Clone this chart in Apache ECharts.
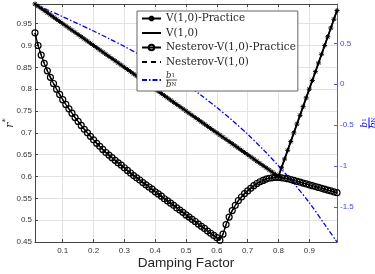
<!DOCTYPE html>
<html><head><meta charset="utf-8">
<script src="https://cdn.jsdelivr.net/npm/echarts@6/dist/echarts.min.js"></script>
<style>html,body{margin:0;padding:0;background:#fff}#c{width:375px;height:274px}</style>
</head><body><div id="c"></div>
<script>
const beta = [0.01,0.02,0.03,0.04,0.05,0.06,0.07,0.08,0.09,0.10,
0.11,0.12,0.13,0.14,0.15,0.16,0.17,0.18,0.19,0.20,
0.21,0.22,0.23,0.24,0.25,0.26,0.27,0.28,0.29,0.30,
0.31,0.32,0.33,0.34,0.35,0.36,0.37,0.38,0.39,0.40,
0.41,0.42,0.43,0.44,0.45,0.46,0.47,0.48,0.49,0.50,
0.51,0.52,0.53,0.54,0.55,0.56,0.57,0.58,0.59,0.60,
0.61,0.62,0.63,0.64,0.65,0.66,0.67,0.68,0.69,0.70,
0.71,0.72,0.73,0.74,0.75,0.76,0.77,0.78,0.79,0.80,
0.81,0.82,0.83,0.84,0.85,0.86,0.87,0.88,0.89,0.90,
0.91,0.92,0.93,0.94,0.95,0.96,0.97,0.98,0.99];
const vPractice = [0.995,0.99,0.985,0.98,0.975,0.97,0.965,0.96,0.955,0.95,
0.945,0.94,0.935,0.93,0.925,0.92,0.915,0.91,0.905,0.90,
0.895,0.89,0.885,0.88,0.875,0.87,0.865,0.86,0.855,0.85,
0.845,0.84,0.835,0.83,0.825,0.82,0.815,0.81,0.805,0.80,
0.795,0.79,0.785,0.78,0.775,0.77,0.765,0.76,0.755,0.75,
0.745,0.74,0.735,0.73,0.725,0.72,0.715,0.71,0.705,0.70,
0.695,0.69,0.685,0.68,0.675,0.67,0.665,0.66,0.655,0.65,
0.645,0.64,0.635,0.63,0.625,0.62,0.615,0.61,0.605,0.60,
0.62,0.64,0.66,0.68,0.70,0.72,0.74,0.76,0.78,0.80,
0.82,0.84,0.86,0.88,0.90,0.92,0.94,0.96,0.98];
const vTheoryX = [0.01,0.80,0.99];
const vTheory = [0.995,0.60,0.98];
const nesPractice = [0.929,0.900,0.878,0.859,0.842,0.827,0.813,0.800,0.788,0.776,
0.765,0.755,0.745,0.735,0.726,0.717,0.708,0.700,0.692,0.684,
0.676,0.669,0.662,0.655,0.649,0.643,0.637,0.631,0.626,0.620,
0.614,0.608,0.602,0.597,0.592,0.586,0.581,0.576,0.571,0.565,
0.560,0.555,0.549,0.544,0.539,0.534,0.528,0.523,0.518,0.512,
0.507,0.502,0.497,0.491,0.486,0.481,0.475,0.470,0.465,0.460,
0.454,0.468,0.490,0.507,0.522,0.534,0.545,0.553,0.561,0.567,
0.573,0.579,0.584,0.588,0.591,0.594,0.596,0.597,0.598,0.598,
0.597,0.596,0.595,0.593,0.591,0.589,0.587,0.585,0.583,0.581,
0.579,0.577,0.575,0.573,0.571,0.569,0.567,0.565,0.563];
const nesTheory = [0.929,0.900,0.878,0.859,0.842,0.827,0.813,0.800,0.788,0.776,
0.765,0.755,0.745,0.735,0.726,0.717,0.708,0.700,0.692,0.684,
0.676,0.669,0.662,0.655,0.649,0.643,0.637,0.631,0.626,0.620,
0.614,0.608,0.602,0.597,0.592,0.586,0.581,0.576,0.571,0.565,
0.560,0.555,0.549,0.544,0.539,0.534,0.528,0.523,0.518,0.512,
0.507,0.502,0.497,0.491,0.486,0.481,0.475,0.470,0.465,0.460,
0.454,0.468,0.490,0.507,0.522,0.534,0.545,0.553,0.561,0.567,
0.573,0.579,0.584,0.588,0.591,0.594,0.596,0.597,0.598,0.598,
0.597,0.596,0.595,0.593,0.591,0.589,0.587,0.585,0.583,0.581,
0.579,0.577,0.575,0.573,0.571,0.569,0.567,0.565,0.563];
const ratioX = [0.01,0.05,0.10,0.15,0.20,0.25,0.30,0.35,0.40,0.45,0.50,0.55,0.60,0.65,0.70,0.75,0.80,0.85,0.90,0.95,0.99];
const ratioVals = [0.98,0.91,0.825,0.738,0.65,0.558,0.462,0.36,0.25,0.13,0.0,-0.137,-0.283,-0.44,-0.61,-0.795,-0.995,-1.21,-1.445,-1.71,-1.925];
const xTicks = [0.1,0.2,0.3,0.4,0.5,0.6,0.7,0.8,0.9];
const yLeftTicks = [0.45,0.5,0.55,0.6,0.65,0.7,0.75,0.8,0.85,0.9,0.95];
const yRightTicks = [-1.5,-1,-0.5,0,0.5];
const seriesNames = ['V(1,0)-Practice','V(1,0)','Nesterov-V(1,0)-Practice','Nesterov-V(1,0)','ratio'];

const pair = (xs, ys) => xs.map((x, i) => [x, ys[i]]);
const AX = '#444', LBL = '#333', BLUE = '#0000ff';
const sans = 'Liberation Sans', serif = 'DejaVu Serif';
const star = 'path://M0,-1L0,1M-1,0L1,0M-0.7,-0.7L0.7,0.7M-0.7,0.7L0.7,-0.7';
const hideSym = {opacity: 0};

const chart = echarts.init(document.getElementById('c'), null, {renderer: 'canvas'});
chart.setOption({
  animation: false,
  backgroundColor: '#fff',
  grid: {left: 35, right: 38, top: 4, bottom: 32, containLabel: false, outerBoundsMode: 'none'},
  xAxis: [{
    type: 'value', min: 0.01, max: 0.99, position: 'bottom',
    axisLine: {onZero: false, lineStyle: {color: AX, width: 1}},
    axisTick: {inside: true, length: 3, customValues: xTicks, lineStyle: {color: AX}},
    axisLabel: {customValues: xTicks, fontSize: 8, fontFamily: sans, color: LBL, margin: 5},
    splitLine: {show: true, lineStyle: {color: '#e3e3e3', width: 1}},
    name: 'Damping Factor', nameLocation: 'middle', nameGap: 14, nameMoveOverlap: false,
    nameTextStyle: {fontSize: 13.6, fontFamily: sans, color: '#262626'}
  }, {
    type: 'value', min: 0.01, max: 0.99, position: 'top',
    axisLine: {show: true, onZero: false, lineStyle: {color: AX, width: 1}},
    axisTick: {show: true, inside: true, length: 3, customValues: xTicks, lineStyle: {color: AX}},
    axisLabel: {show: false}, splitLine: {show: false}
  }],
  yAxis: [{
    type: 'value', min: 0.45, max: 0.995, position: 'left',
    axisLine: {show: true, onZero: false, lineStyle: {color: AX, width: 1}},
    axisTick: {show: true, inside: true, length: 3, customValues: yLeftTicks, lineStyle: {color: AX}},
    axisLabel: {customValues: yLeftTicks, fontSize: 8, fontFamily: sans, color: LBL, margin: 3},
    splitLine: {show: true, lineStyle: {color: '#e3e3e3', width: 1}},
    name: '{r|r}{s|*}', nameLocation: 'middle', nameRotate: 90, nameGap: 19, nameMoveOverlap: false,
    nameTextStyle: {rich: {
      r: {fontFamily: serif, fontStyle: 'italic', fontSize: 11, color: '#262626', lineHeight: 14, verticalAlign: 'bottom'},
      s: {fontFamily: serif, fontSize: 8, color: '#262626', lineHeight: 14, verticalAlign: 'top'}
    }}
  }, {
    type: 'value', min: -1.925, max: 0.98, position: 'right',
    axisLine: {show: true, onZero: false, lineStyle: {color: '#5555ff', width: 1}},
    axisTick: {show: true, inside: true, length: 3, customValues: yRightTicks, lineStyle: {color: '#5555ff'}},
    axisLabel: {customValues: yRightTicks, fontSize: 8, fontFamily: sans, color: '#4444ff', margin: 3},
    splitLine: {show: false},
    name: '{n|b}{ns|1}\n{bar| }\n{n|b}{ns|N}', nameLocation: 'middle', nameRotate: 90, nameGap: 24, nameMoveOverlap: false,
    nameTextStyle: {align: 'center', rich: {
      n: {fontFamily: serif, fontStyle: 'italic', fontSize: 9, color: BLUE, lineHeight: 7},
      ns: {fontFamily: serif, fontSize: 5.5, color: BLUE, lineHeight: 7, verticalAlign: 'bottom'},
      bar: {width: 11, height: 1, backgroundColor: BLUE, fontSize: 1, lineHeight: 2}
    }}
  }],
  legend: {
    orient: 'vertical', left: 137, top: 11,
    data: [
      {name: seriesNames[0]},
      {name: seriesNames[1], itemStyle: hideSym},
      {name: seriesNames[2]},
      {name: seriesNames[3], itemStyle: hideSym},
      {name: seriesNames[4], itemStyle: hideSym}
    ],
    backgroundColor: '#fff', borderColor: '#666', borderWidth: 1,
    padding: [2, 2, 2, 4], itemWidth: 19, itemHeight: 7, itemGap: 3.5,
    textStyle: {fontFamily: serif, fontSize: 10.4, color: '#262626', lineHeight: 11,
      rich: {
        n: {fontFamily: serif, fontStyle: 'italic', fontSize: 8.5, color: '#262626', lineHeight: 7},
        ns: {fontFamily: serif, fontSize: 5.5, color: '#262626', lineHeight: 7, verticalAlign: 'bottom'},
        bar: {width: 11, height: 0.8, backgroundColor: '#262626', fontSize: 1, lineHeight: 2}
      }},
    formatter: name => name === 'ratio' ? '{n|b}{ns|1}\n{bar| }\n{n|b}{ns|N}' : name
  },
  series: [{
    name: seriesNames[0], type: 'line', xAxisIndex: 0, yAxisIndex: 0, z: 3,
    data: pair(beta, vPractice), showAllSymbol: true,
    symbol: star, symbolSize: 5,
    itemStyle: {color: '#000', borderColor: '#000', borderWidth: 1},
    lineStyle: {color: '#000', width: 1.8}
  }, {
    name: seriesNames[1], type: 'line', xAxisIndex: 0, yAxisIndex: 0, z: 3,
    data: pair(vTheoryX, vTheory), symbol: 'none',
    itemStyle: {color: '#000'}, lineStyle: {color: '#000', width: 1.3}
  }, {
    name: seriesNames[2], type: 'line', xAxisIndex: 0, yAxisIndex: 0, z: 3,
    data: pair(beta, nesPractice), showAllSymbol: true,
    symbol: 'circle', symbolSize: 6,
    itemStyle: {color: 'rgba(0,0,0,0)', borderColor: '#000', borderWidth: 1.2},
    lineStyle: {color: '#000', width: 1.3}
  }, {
    name: seriesNames[3], type: 'line', xAxisIndex: 0, yAxisIndex: 0, z: 3,
    data: pair(beta, nesTheory), symbol: 'none',
    itemStyle: {color: '#000'}, lineStyle: {color: '#000', width: 1.3, type: [5, 4]}
  }, {
    name: seriesNames[4], type: 'line', xAxisIndex: 0, yAxisIndex: 1, z: 3,
    data: pair(ratioX, ratioVals), symbol: 'none', smooth: 0.3,
    itemStyle: {color: BLUE}, lineStyle: {color: BLUE, width: 1.3, type: [5, 2, 1.5, 2]}
  }]
});
</script></body></html>
